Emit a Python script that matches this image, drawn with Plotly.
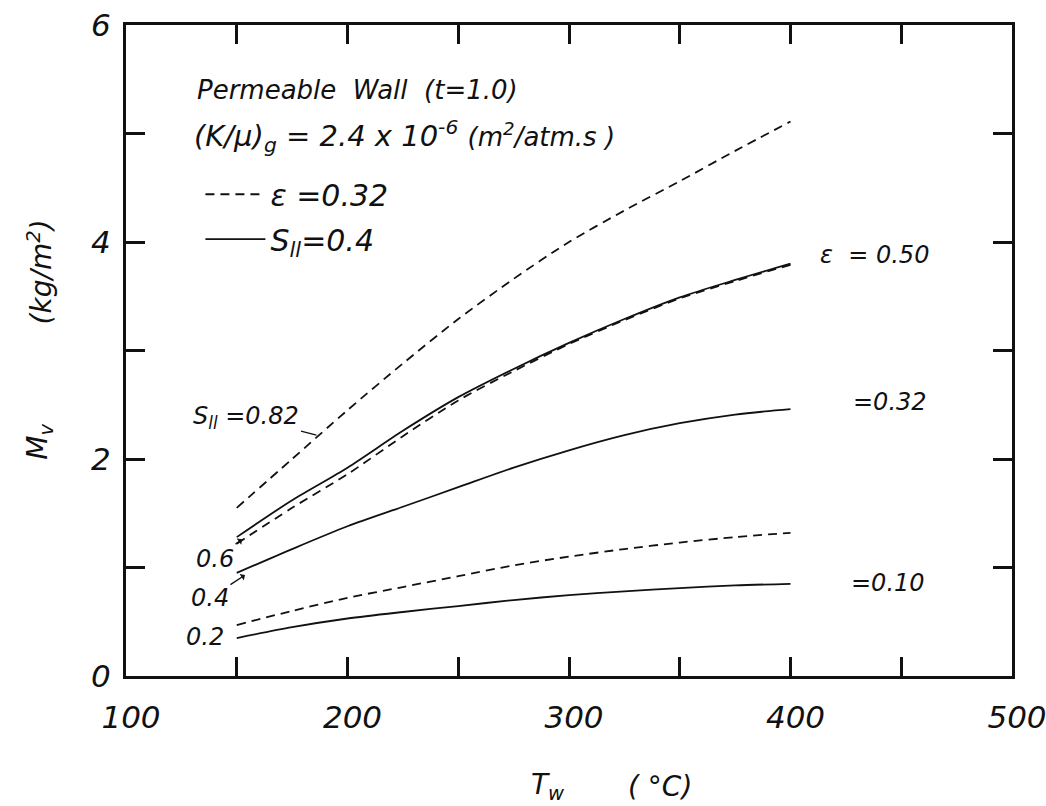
import plotly.graph_objects as go

# ---- data ----
T_w = [150, 175, 200, 225, 250, 275, 300, 325, 350, 375, 400]
mv_e050_s04 = [1.28, 1.62, 1.92, 2.26, 2.57, 2.83, 3.07, 3.29, 3.49, 3.65, 3.80]
mv_e032_s082 = [1.55, 2.00, 2.45, 2.88, 3.29, 3.66, 4.00, 4.29, 4.56, 4.84, 5.11]
mv_e032_s06 = [1.22, 1.55, 1.86, 2.21, 2.54, 2.81, 3.06, 3.28, 3.48, 3.64, 3.79]
mv_e032_s04 = [0.95, 1.17, 1.38, 1.56, 1.74, 1.92, 2.08, 2.22, 2.33, 2.41, 2.46]
mv_e032_s02 = [0.47, 0.60, 0.72, 0.82, 0.92, 1.02, 1.10, 1.17, 1.23, 1.28, 1.32]
mv_e010_s04 = [0.35, 0.45, 0.53, 0.59, 0.645, 0.70, 0.745, 0.78, 0.81, 0.835, 0.85]

x_ticks = [100, 150, 200, 250, 300, 350, 400, 450, 500]
x_ticktext = ["100", "", "200", "", "300", "", "400", "", "500"]
y_ticks = [0, 1, 2, 3, 4, 5, 6]
y_ticktext = ["0", "", "2", "", "4", "", "6"]

FONT = "DejaVu Sans"
INK = "#111111"
DASH = "9px,6px"

fig = go.Figure()

dashed = [mv_e032_s082, mv_e032_s06, mv_e032_s02]
solid = [mv_e050_s04, mv_e032_s04, mv_e010_s04]

for i, ys in enumerate(dashed):
    fig.add_trace(go.Scatter(
        x=T_w, y=ys, mode="lines",
        line=dict(color=INK, width=1.8, dash=DASH, shape="spline", smoothing=0.8),
        name="\u03b5 =0.32", showlegend=(i == 0), legend="legend"))
for i, ys in enumerate(solid):
    fig.add_trace(go.Scatter(
        x=T_w, y=ys, mode="lines",
        line=dict(color=INK, width=1.8, shape="spline", smoothing=0.8),
        name="S<sub>ll</sub>=0.4", showlegend=(i == 0), legend="legend2"))

tf = dict(family=FONT, size=31, color=INK, style="italic")
af = dict(family=FONT, size=26, color=INK, style="italic")
lf = dict(family=FONT, size=30, color=INK, style="italic")
sf = dict(family=FONT, size=24, color=INK, style="italic")
bf = dict(family=FONT, size=29, color=INK, style="italic")

ann = []
ann.append(dict(text="Permeable  Wall  (t=1.0)", xref="paper", yref="paper", x=0.078, y=0.900,
                xanchor="left", yanchor="middle", showarrow=False, font=af))
ann.append(dict(text="(K/\u03bc)<sub>g</sub> = 2.4 x 10<sup>-6</sup> <span style='font-size:26px'>(m<sup>2</sup>/atm.s )</span>",
                xref="paper", yref="paper", x=0.075, y=0.830,
                xanchor="left", yanchor="middle", showarrow=False, font=bf))
ann.append(dict(text="\u03b5  = 0.50", x=438, y=3.88, showarrow=False, font=sf))
ann.append(dict(text="=0.32", x=445, y=2.53, showarrow=False, font=sf))
ann.append(dict(text="=0.10", x=444, y=0.86, showarrow=False, font=sf))
ann.append(dict(text="S<sub>ll</sub> =0.82", x=186, y=2.22, ax=-70, ay=-18, showarrow=True,
                arrowhead=0, arrowwidth=1.3, arrowcolor=INK, font=sf))
ann.append(dict(text="0.6", x=152.4, y=1.26, ax=-27, ay=20, showarrow=True,
                arrowhead=1, arrowsize=1, arrowwidth=1.3, arrowcolor=INK, font=sf))
ann.append(dict(text="0.4", x=153.7, y=0.93, ax=-35, ay=23, showarrow=True,
                arrowhead=1, arrowsize=1, arrowwidth=1.3, arrowcolor=INK, font=sf))
ann.append(dict(text="0.2", x=135.7, y=0.36, showarrow=False, font=sf))

title_font = dict(family=FONT, size=28, color=INK, style="italic")
# y axis title (two parts, as in the reference)
ann.append(dict(text="M<sub>v</sub>", xref="paper", yref="paper", x=-0.097, y=0.360,
                xanchor="center", yanchor="middle", textangle=-90, showarrow=False, font=title_font))
ann.append(dict(text="(kg/m<sup>2</sup>)", xref="paper", yref="paper", x=-0.097, y=0.620,
                xanchor="center", yanchor="middle", textangle=-90, showarrow=False, font=title_font))
# x axis title
ann.append(dict(text="T<sub>w</sub>", xref="paper", yref="paper", x=0.476, y=-0.170,
                xanchor="center", yanchor="middle", showarrow=False, font=title_font))
ann.append(dict(text="( \u00b0C)", xref="paper", yref="paper", x=0.603, y=-0.170,
                xanchor="center", yanchor="middle", showarrow=False, font=title_font))

axis_common = dict(showline=True, linewidth=3, linecolor=INK, mirror="ticks",
                   ticks="inside", ticklen=19, tickwidth=2.5, tickcolor=INK,
                   showgrid=False, zeroline=False, tickfont=tf,
                   ticklabeloverflow="allow", automargin=False)

fig.update_layout(
    width=1046, height=806,
    margin=dict(l=126, r=34, t=25, b=130, autoexpand=False),
    paper_bgcolor="white", plot_bgcolor="white",
    xaxis=dict(range=[100, 500], tickvals=x_ticks, ticktext=x_ticktext,
               ticklabelstandoff=12, ticklabelshift=5, **axis_common),
    yaxis=dict(range=[0, 6], tickvals=y_ticks, ticktext=y_ticktext,
               ticklabelstandoff=6, **axis_common),
    legend=dict(x=0.084, y=0.740, xanchor="left", yanchor="middle",
                bgcolor="rgba(0,0,0,0)", font=lf, itemwidth=60),
    legend2=dict(x=0.084, y=0.671, xanchor="left", yanchor="middle",
                 bgcolor="rgba(0,0,0,0)", font=lf, itemwidth=60),
    annotations=ann,
)

fig.write_html("out.html", config={"displayModeBar": False},
               post_script="document.body.style.margin='0';document.body.style.overflow='hidden';")
